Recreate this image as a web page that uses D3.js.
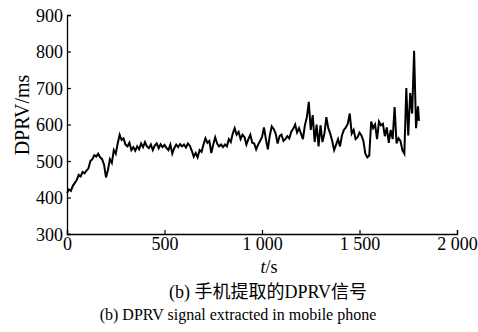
<!DOCTYPE html>
<html><head><meta charset="utf-8">
<script src="https://cdn.jsdelivr.net/npm/d3@7"></script>
<style>body{margin:0;background:#fff}svg{display:block}</style>
</head><body>
<script>
const times = [0,10,20,30,40,50,60,70,80,90,100,110,120,130,140,150,160,170,180,190,200,210,220,230,240,250,260,270,280,290,300,310,320,330,340,350,360,370,380,390,400,410,420,430,440,450,460,470,480,490,500,510,520,530,540,550,560,570,580,590,600,610,620,630,640,650,660,670,680,690,700,710,720,730,740,750,760,770,780,790,800,810,820,830,840,850,860,870,880,890,900,910,920,930,940,950,960,970,980,990,1000,1010,1020,1030,1040,1050,1060,1070,1080,1090,1100,1110,1120,1130,1140,1150,1160,1170,1180,1190,1200,1210,1220,1230,1240,1250,1260,1270,1280,1290,1300,1310,1320,1330,1340,1350,1360,1370,1380,1390,1400,1410,1420,1430,1440,1450,1460,1470,1480,1490,1500,1510,1520,1530,1540,1550,1560,1570,1580,1590,1600,1610,1620,1630,1640,1650,1660,1670,1680,1690,1700,1710,1720,1730,1740,1750,1760,1770,1780,1790,1800,1805];
const dprv = [412,422,418,432,440,448,462,458,470,466,474,480,500,505,516,512,520,510,505,490,455,475,505,495,530,520,548,572,558,562,545,540,550,530,538,528,540,532,548,538,552,540,535,545,530,542,548,535,546,538,544,536,530,545,520,535,545,538,546,540,545,537,548,542,528,512,522,510,530,525,545,562,550,555,522,545,565,548,540,545,538,545,540,560,552,575,590,572,580,560,572,566,545,560,572,550,548,532,545,555,565,592,560,532,570,595,588,575,548,568,572,555,560,568,562,580,588,600,578,590,575,560,598,620,662,585,626,552,600,540,598,552,575,620,590,575,555,530,545,560,540,570,585,592,602,630,575,585,560,565,578,570,555,520,510,515,608,590,600,560,608,598,602,568,592,550,585,560,648,548,562,555,530,520,700,570,686,630,802,590,650,610];
const xTicks = [0,500,1000,1500,2000];
const xTickLabels = ["0","500","1 000","1 500","2 000"];
const yTicks = [300,400,500,600,700,800,900];
const yLabel = "DPRV/ms";
const captionCn = "(b) 手机提取的DPRV信号";
const captionEn = "(b) DPRV signal extracted in mobile phone";

const W=478,H=332;
const svg=d3.select("body").append("svg").attr("width",W).attr("height",H);
const x=d3.scaleLinear().domain([0,2000]).range([67,457]);
const y=d3.scaleLinear().domain([300,900]).range([234,15]);
const serif="'Liberation Serif','Times New Roman',serif";

const xa=svg.append("g").attr("transform","translate(0,234)")
  .call(d3.axisBottom(x).tickValues(xTicks).tickSize(-4).tickPadding(3).tickFormat((d,i)=>xTickLabels[i]));
const ya=svg.append("g").attr("transform","translate(67,0)")
  .call(d3.axisLeft(y).tickValues(yTicks).tickSize(-4).tickPadding(4));
[xa,ya].forEach(g=>{
  g.attr("font-family",serif).attr("font-size",18);
  g.select(".domain").attr("stroke","#000").attr("stroke-width",1.3);
  g.selectAll(".tick line").attr("stroke","#000").attr("stroke-width",1.2);
  g.selectAll(".tick text").attr("fill","#000").style("font-family",serif).style("font-size","18px");
});
ya.selectAll(".tick text").attr("dy","0.34em");

const line=d3.line().x((d,i)=>x(times[i])).y(d=>y(d));
svg.append("path").datum(dprv).attr("d",line).attr("fill","none").attr("stroke","#000").attr("stroke-width",2).attr("stroke-linejoin","miter");

svg.append("text").attr("transform","translate(29,115) rotate(-90)").attr("text-anchor","middle")
  .style("font-family",serif).style("font-size","20px").text(yLabel);
const xl=svg.append("text").attr("x",269).attr("y",273).attr("text-anchor","middle").style("font-family",serif).style("font-size","18px");
xl.append("tspan").style("font-style","italic").text("t");
xl.append("tspan").text("/s");
svg.append("text").attr("x",268).attr("y",298).attr("text-anchor","middle").style("font-family",serif+",'Noto Sans CJK SC'").style("font-size","18px").text(captionCn);
svg.append("text").attr("x",238).attr("y",320).attr("text-anchor","middle").style("font-family",serif).style("font-size","16px").text(captionEn);
</script>
</body></html>
